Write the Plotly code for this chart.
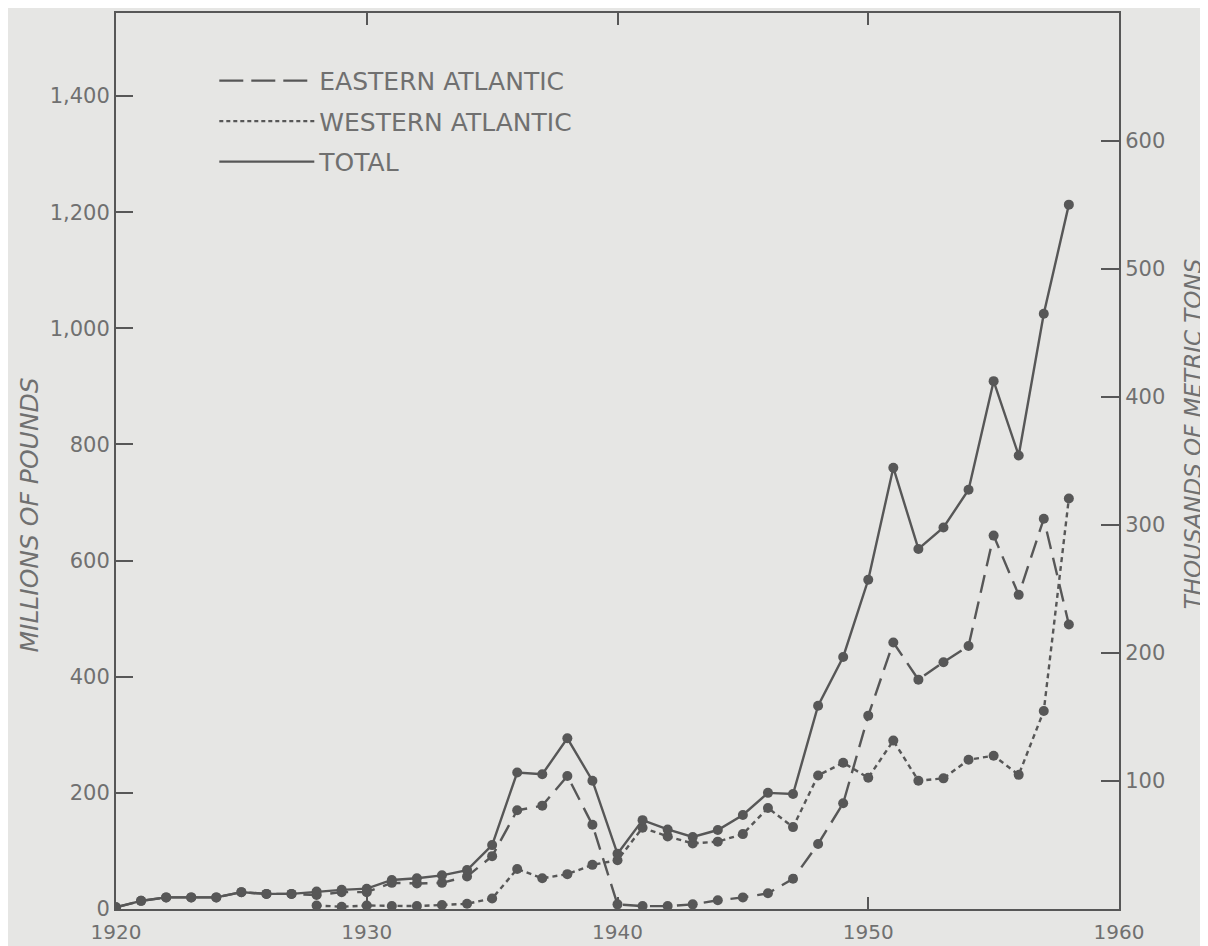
import plotly.graph_objects as go

years = list(range(1920, 1959))
total = [3, 14, 20, 20, 20, 29, 26, 26, 30, 33,
         35, 50, 53, 58, 67, 110, 235, 232, 294, 221,
         95, 153, 137, 124, 136, 162, 200, 198, 350, 434,
         567, 760, 620, 657, 722, 909, 781, 1025, 1213]
eastern = [3, 14, 20, 20, 20, 29, 26, 26, 24, 29,
           29, 45, 44, 45, 56, 91, 170, 178, 229, 145,
           8, 5, 5, 8, 15, 20, 27, 52, 112, 182,
           333, 459, 395, 425, 453, 643, 541, 672, 490]
western = [None, None, None, None, None, None, None, None, 6, 4,
           6, 5, 5, 7, 9, 18, 69, 53, 60, 76,
           84, 140, 125, 113, 116, 129, 174, 141, 230, 252,
           226, 290, 221, 225, 257, 264, 231, 341, 707]

series_names = ["EASTERN ATLANTIC", "WESTERN ATLANTIC", "TOTAL"]
left_ticks = [0, 200, 400, 600, 800, 1000, 1200, 1400]
right_ticks = [100, 200, 300, 400, 500, 600]
x_ticks = [1920, 1930, 1940, 1950, 1960]
LB_PER_TON = 2.2046

INK = "#575757"
TXT = "#707070"
BG = "#e6e6e4"
FONT = "DejaVu Sans"

fig = go.Figure()

data_dash = {
    "EASTERN ATLANTIC": "18px,9px",
    "WESTERN ATLANTIC": "5px,4px",
    "TOTAL": "solid",
}
legend_dash = {
    "EASTERN ATLANTIC": "24px,8px",
    "WESTERN ATLANTIC": "4px,3px",
    "TOTAL": "solid",
}

for name, vals in zip(series_names, [eastern, western, total]):
    fig.add_trace(go.Scatter(
        x=years, y=vals, mode="lines+markers", name=name, showlegend=False,
        line=dict(color=INK, width=2.4, dash=data_dash[name]),
        marker=dict(color=INK, size=10, symbol="circle"),
        connectgaps=False,
    ))

# legend-only entries (no markers, as in the reference legend)
for name in series_names:
    fig.add_trace(go.Scatter(
        x=[None], y=[None], mode="lines", name=name, legendgroup=name,
        line=dict(color=INK, width=2.3, dash=legend_dash[name]),
        showlegend=True,
    ))

# invisible trace to anchor the right-hand axis
fig.add_trace(go.Scatter(x=[None], y=[None], yaxis="y2", showlegend=False,
                         hoverinfo="skip"))

ymax = 1543
fig.update_layout(
    width=1200, height=938,
    margin=dict(l=108, r=89, t=5, b=37, autoexpand=False),
    paper_bgcolor=BG, plot_bgcolor=BG,
    font=dict(family=FONT, color=TXT, size=20),
    showlegend=True,
    legend=dict(
        x=0.098, y=0.95, xanchor="left", yanchor="top",
        bgcolor="rgba(0,0,0,0)", borderwidth=0,
        font=dict(family=FONT, size=25, color=TXT),
        itemwidth=95, traceorder="grouped", tracegroupgap=5,
        itemclick=False,
    ),
    xaxis=dict(
        range=[1920, 1960], tickvals=x_ticks, ticktext=[str(v) for v in x_ticks],
        showgrid=False, zeroline=False, automargin=False,
        showline=True, linecolor=INK, linewidth=2, mirror="ticks",
        ticks="inside", ticklen=12, tickwidth=2, tickcolor=INK,
        tickfont=dict(size=20, color=TXT), ticklabelstandoff=4,
    ),
    yaxis=dict(
        range=[0, ymax], tickvals=left_ticks, tickformat=",",
        showgrid=False, zeroline=False, automargin=False,
        showline=True, linecolor=INK, linewidth=2,
        ticks="inside", ticklen=17, tickwidth=2, tickcolor=INK,
        tickfont=dict(size=21, color=TXT),
    ),
    yaxis2=dict(
        range=[0, ymax / LB_PER_TON], tickvals=right_ticks,
        overlaying="y", side="right", anchor="x", automargin=False,
        showgrid=False, zeroline=False,
        showline=True, linecolor=INK, linewidth=2,
        ticks="inside", ticklen=18, tickwidth=2, tickcolor=INK,
        tickfont=dict(size=21, color=TXT),
    ),
    annotations=[
        dict(text="MILLIONS OF POUNDS", xref="paper", yref="paper",
             x=-0.086, y=0.44, xanchor="center", yanchor="middle",
             textangle=-90, showarrow=False,
             font=dict(family=FONT, size=25, color=TXT, style="italic")),
        dict(text="THOUSANDS OF METRIC TONS", xref="paper", yref="paper",
             x=1.074, y=0.53, xanchor="center", yanchor="middle",
             textangle=-90, showarrow=False,
             font=dict(family=FONT, size=23, color=TXT, style="italic")),
    ],
)

fig.write_html("out.html")
